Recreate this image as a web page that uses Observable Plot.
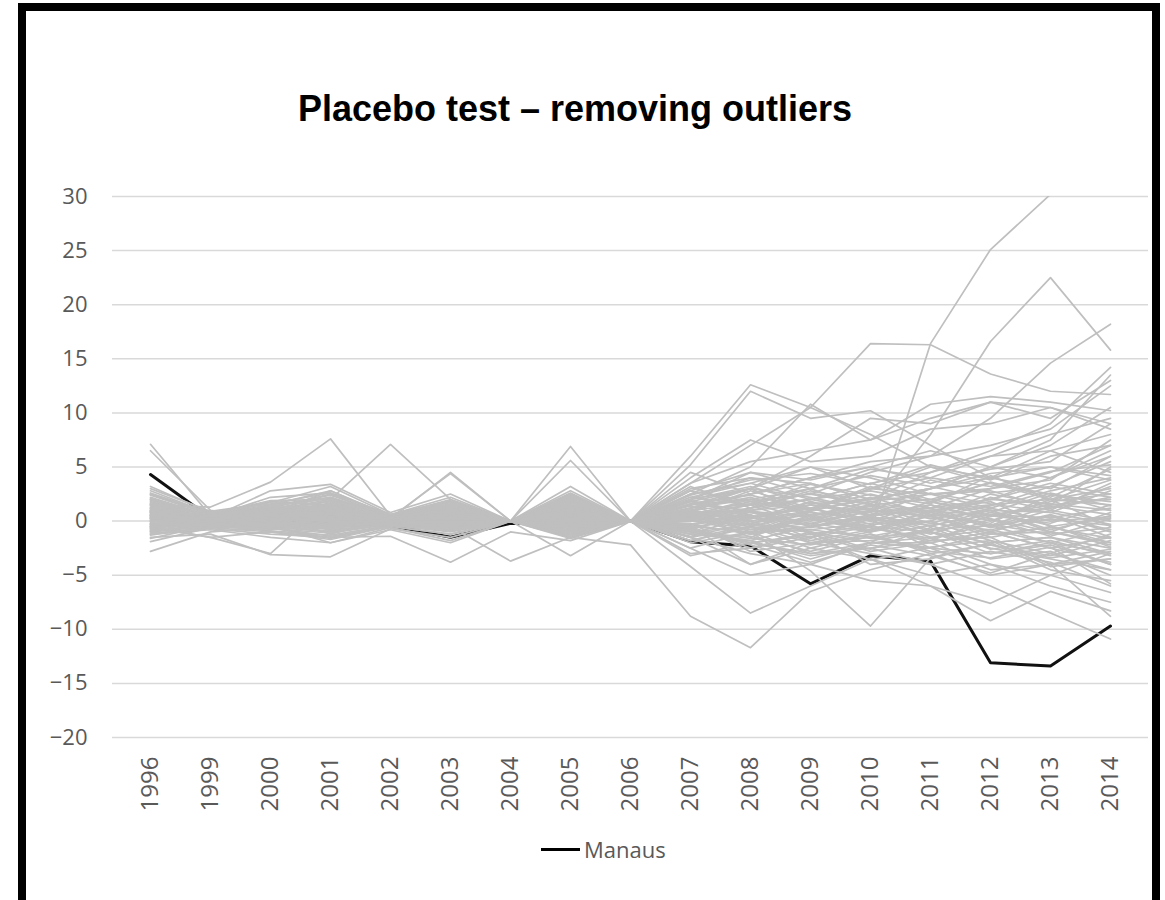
<!DOCTYPE html>
<html>
<head>
<meta charset="utf-8">
<script src="https://cdn.jsdelivr.net/npm/d3@7"></script>
<script src="https://cdn.jsdelivr.net/npm/@observablehq/plot@0.6"></script>
<style>
  body { margin: 0; background: #fff; }
  #wrap { position: relative; width: 1165px; height: 900px; overflow: hidden; background: #fff; }
  #chart { position: absolute; left: 0; top: 0; }
  #frame { position: absolute; left: 18px; top: 3px; width: 1142px; height: 905px; box-sizing: border-box; border: 8px solid #000; }
  #title { position: absolute; left: 0; top: 91px; width: 1150px; text-align: center; font: bold 36px "Liberation Sans", Arial, sans-serif; line-height: 1; color: #000; }
  #legend { position: absolute; left: 541px; top: 835px; height: 28px; display: flex; align-items: center; font: 22px "Open Sans", sans-serif; color: #595959; }
  #legend .sw { width: 39px; height: 3px; background: #000; margin-right: 4px; }
</style>
</head>
<body>
<div id="wrap">
  <div id="chart"></div>
  <div id="frame"></div>
  <div id="title">Placebo test – removing outliers</div>
  <div id="legend"><span class="sw"></span><span>Manaus</span></div>
</div>
<script>
// Categories (x axis)
const years = ["1996","1999","2000","2001","2002","2003","2004","2005","2006","2007","2008","2009","2010","2011","2012","2013","2014"];
// Y tick labels
const yTicks = [-20, -15, -10, -5, 0, 5, 10, 15, 20, 25, 30];

// Treated unit
const manaus = [4.3,0.3,0.2,-0.3,-0.4,-1.5,-0.2,-0.3,0,-1.9,-2.3,-5.8,-3.2,-3.7,-13.1,-13.4,-9.7];

// Placebo units (grey)
const placeboSeries = [
  [1.2,0.3,0.8,1.5,0.2,0.5,0,0.8,0,1.5,3.0,0.5,-1.0,16.4,25.1,30.2,38],
  [0.5,-0.2,0.6,1.0,0.1,-0.5,0,1.2,0,2.0,4.5,3.0,1.0,8.0,16.6,22.5,15.8],
  [-0.5,0.4,-0.3,0.8,0.3,0.9,0,-0.5,0,3.5,7.0,10.5,16.4,16.3,13.6,12.0,11.7],
  [0.8,0.1,1.1,0.5,-0.2,0.3,0,0.6,0,1.0,2.5,4.0,5.5,6.0,9.5,14.6,18.2],
  [2.0,0.5,1.5,2.2,0.4,1.2,0,2.5,0,6.0,12.6,10.5,8.0,5.0,3.5,2.0,1.5],
  [1.5,0.2,0.7,2.8,0.5,2.0,0,3.2,0,5.2,12.0,9.5,10.2,7.0,4.0,6.5,4.5],
  [-1.0,-0.5,0.2,-0.8,-0.3,0.4,0,-1.0,0,2.5,5.0,10.8,7.5,9.5,11.0,10.5,9.0],
  [-1.2,-0.8,-1.5,-2.0,-0.6,-1.8,0,-1.5,-2.2,-8.8,-11.7,-6.5,-4.5,-3.0,-5.0,-4.0,-3.5],
  [0.3,-0.4,0.5,-1.2,0.2,-0.8,0,-0.6,0,-4.2,-8.5,-6.0,-3.5,-5.0,-4.0,-6.0,-7.5],
  [-0.8,0.5,-0.6,-1.4,-0.5,0.6,0,-1.2,0,-2.0,-1.0,-4.6,-9.7,-3.4,-2.0,-1.5,-3.0],
  [0.6,-0.3,0.4,-0.5,0.3,-0.6,0,0.4,0,-1.0,-2.0,-3.0,-2.5,-4.0,-6.0,-8.5,-10.9],
  [-0.3,0.2,-0.8,0.5,-0.2,0.3,0,-0.4,0,-1.5,-3.0,-4.0,-5.5,-6.0,-9.2,-6.5,-8.3],
  [1.0,0.3,0.9,0.2,0.4,-0.2,0,0.9,0,-0.5,-4.0,-2.5,-3.5,-6.0,-7.6,-5.0,-6.6],
  [1.5,1.3,3.6,7.6,0.5,1.0,0,1.8,0,2.0,3.0,5.0,4.0,2.5,3.0,4.5,7.0],
  [-0.5,-1.5,-3.0,2.0,7.1,2.0,0,0.5,0,0.8,1.0,2.0,3.5,2.0,1.0,-1.0,-2.0],
  [7.1,0.5,0.8,1.2,0.3,0.5,0,0.6,0,0.5,1.5,-0.5,0.5,1.2,2.0,3.5,2.5],
  [6.5,1.0,0.2,0.5,-0.2,0.4,0,1.0,0,1.0,-1.0,0.5,1.5,0.8,-0.5,1.0,0.0],
  [-2.8,-1.0,-0.6,-1.6,-0.4,-0.8,0,-0.9,0,-0.5,-2.5,-1.5,-0.5,-1.0,-2.5,-3.5,-4.5],
  [0.4,0.2,0.5,1.0,0.2,4.5,0,6.9,0,1.5,2.0,1.0,3.0,5.0,4.0,3.0,6.0],
  [0.9,0.6,1.2,2.5,0.3,4.4,0,5.6,0,3.0,4.0,3.5,2.0,4.5,6.0,8.0,9.5],
  [-1.5,-1.2,-3.1,-3.3,-0.7,-1.5,0,-1.6,0,-1.0,-0.5,-2.0,-1.5,-2.5,-3.0,-2.0,-4.0],
  [-0.6,-1.5,-1.0,-1.5,-1.4,-3.8,-1.0,-1.8,0,-3.0,-2.5,-1.0,-4.0,-3.5,-2.0,-4.5,-5.5],
  [0.2,-0.2,-0.5,-1.0,-0.3,-0.5,-3.7,-1.5,0,-1.5,-4.0,-2.0,-1.0,0.5,-1.0,-2.5,-1.5],
  [-1.2,-0.6,-0.4,-2.0,-0.8,-2.0,0,-3.2,0,-1.2,-1.8,-3.5,-2.0,-2.0,-4.0,-5.0,-3.0],
  [0.3,0.1,-0.2,0.8,0.1,0.6,0,0.3,0,0.5,1.5,2.0,3.5,4.5,6.5,9.0,14.2],
  [0.7,0.3,0.6,1.5,0.2,1.0,0,1.0,0,0.8,0.0,1.0,2.0,3.0,5.0,7.5,13.5],
  [-0.2,0.0,0.3,-0.4,0.0,0.2,0,-0.2,0,2.0,4.0,2.5,4.5,6.0,7.0,8.5,12.5],
  [1.2,0.4,1.8,1.5,0.6,1.5,0,1.8,0,3.5,5.5,6.5,7.5,10.8,11.5,11.0,10.2],
  [0.9,0.3,2.8,3.4,0.8,2.5,0,2.8,0,4.0,7.5,5.5,6.0,8.5,9.0,10.5,8.5],
  [2.5,0.8,1.0,2.0,0.5,1.8,0,1.4,0,2.5,3.5,5.0,3.0,4.0,6.0,6.5,8.0],
  [0.8,0.2,0.9,1.5,0.3,0.7,0,1.4,0,1.2,3.0,6.0,9.5,9.0,11.0,9.5,13.0],
  [-0.7,-0.1,-0.5,-0.4,-0.3,-0.7,0,-0.8,0,-2.5,-5.0,-4.0,-2.0,-2.5,-4.5,-4.0,-8.8],
  [0.5,0.1,0.3,0.6,0.1,0.3,0,0.4,0,0.6,1.0,1.5,0.5,1.0,1.5,2.0,3.0],
  [-0.4,-0.1,-0.3,-0.5,-0.1,-0.3,0,-0.4,0,-0.5,-1.0,-0.8,-1.5,-1.0,-2.0,-1.5,-2.5],
  [1.8,0.4,0.9,1.9,0.3,1.1,0,1.6,0,1.2,2.2,0.5,1.8,2.5,1.2,2.8,4.0],
  [-1.6,-0.4,-0.9,-1.3,-0.4,-1.0,0,-1.1,0,-1.8,-0.5,-2.5,-1.2,-3.0,-2.2,-3.2,-1.8],
  [0.0,0.2,-0.1,0.3,0.1,0.1,0,0.2,0,0.3,-0.5,0.8,0.2,-0.4,0.6,0.3,1.2],
  [2.8,0.7,1.3,2.4,0.5,1.6,0,2.0,0,1.8,3.0,2.2,1.0,0.5,2.5,1.5,5.0],
  [1.0,0.0,0.5,1.2,0.0,0.8,0,1.1,0,-1.2,0.5,-1.0,-2.0,0.8,-0.5,0.5,-1.5],
  [-0.8,-0.2,-0.6,-0.9,-0.2,-0.6,0,-0.7,0,0.8,-1.5,0.5,1.2,-0.5,1.0,-0.8,0.5],
  [0.3,0.5,0.7,0.2,0.3,0.5,0,0.5,0,1.5,2.5,3.5,2.0,3.0,4.0,5.0,4.2],
  [-0.2,-0.6,-0.2,-0.8,-0.3,-0.2,0,-0.3,0,-0.8,-2.0,-1.2,-2.8,-2.0,-1.0,-2.5,-3.8],
  [1.3,0.2,0.4,0.9,0.2,0.5,0,0.8,0,0.0,1.2,2.0,2.8,1.8,0.5,1.5,2.0],
  [-1.0,-0.3,-0.4,-0.6,-0.1,-0.4,0,-0.5,0,0.4,0.0,-1.8,-0.8,0.5,-1.5,-0.5,-2.0],
  [2.2,0.5,1.5,2.8,0.4,1.8,0,2.4,0,2.2,1.5,3.0,4.2,3.2,2.0,4.0,6.5],
  [0.6,-0.1,0.1,0.4,-0.1,0.0,0,0.3,0,-0.3,0.8,-0.5,0.6,1.5,0.2,-1.0,0.8],
  [-0.5,0.3,0.2,-0.2,0.1,-0.1,0,-0.2,0,1.0,0.3,1.2,-0.3,0.0,2.2,1.0,3.5],
  [1.6,0.3,1.0,1.6,0.3,0.9,0,1.3,0,0.2,-1.2,-0.5,0.5,-1.5,-0.8,-2.0,-3.0],
  [-1.3,-0.5,-0.7,-1.1,-0.3,-0.7,0,-0.9,0,-2.5,-1.0,-3.0,-2.0,-1.5,-3.5,-2.8,-5.0],
  [0.8,0.2,0.6,1.0,0.2,0.7,0,1.0,0,1.8,0.5,0.0,1.5,2.0,3.5,2.5,1.0],
  [0.2,-0.2,0.0,0.1,0.0,-0.2,0,0.1,0,-0.6,0.2,1.5,0.8,-0.8,0.4,1.8,2.5],
  [2.5,0.6,0.5,1.4,0.3,1.3,0,1.7,0,0.8,2.8,1.2,2.5,1.2,3.0,3.8,7.5],
  [-0.6,0.4,0.8,0.7,0.3,0.5,0,0.6,0,2.8,1.8,0.8,-0.5,1.5,0.0,2.0,-0.5],
  [1.1,0.1,0.3,0.8,0.1,0.4,0,0.7,0,-1.5,-0.5,-1.5,0.2,-2.5,-1.2,-1.0,-2.2],
  [0.4,0.0,-0.2,0.5,-0.1,0.2,0,0.3,0,0.2,-0.8,-0.2,-1.0,0.0,-1.8,-3.0,-1.2],
  [-0.9,-0.3,-0.2,-0.3,-0.2,-0.3,0,-0.6,0,-1.0,-1.8,-0.5,0.3,-1.2,0.5,-0.2,1.5],
  [1.4,0.3,0.8,1.3,0.2,0.6,0,1.2,0,0.6,1.8,2.5,1.5,0.2,1.0,0.8,-0.3],
  [0.1,0.1,0.4,0.3,0.1,0.2,0,0.2,0,1.2,2.0,1.0,3.0,2.5,2.8,1.2,3.2],
  [3.0,0.9,1.7,3.2,0.6,2.2,0,2.2,0,2.8,4.5,3.8,5.0,3.5,4.8,5.5,9.0],
  [-0.3,-0.4,-0.7,-0.6,-0.2,-0.5,0,-0.5,0,-0.2,-2.8,-2.0,-3.0,-4.0,-2.8,-3.8,-6.0],
  [0.7,0.3,1.2,0.9,0.2,0.8,0,0.9,0,0.0,1.0,-1.2,-0.4,-2.0,-1.0,0.5,-0.8],
  [1.9,0.5,0.3,1.7,0.4,1.4,0,1.9,0,1.0,-0.3,1.8,0.0,1.0,1.8,-0.5,0.3],
  [-0.1,0.2,0.1,0.0,0.1,0.1,0,0.0,0,0.5,0.5,-2.0,-1.8,-1.0,-3.0,-2.2,-4.0],
  [1.0,-0.2,0.2,0.3,0.0,0.1,0,0.5,0,-0.8,-2.0,-3.2,-2.5,-1.8,-1.5,-4.0,-2.8],
  [0.0,0.3,0.6,0.9,0.2,0.5,0,0.5,0,2.2,3.5,2.0,1.0,3.0,5.0,4.0,6.0],
  [2.0,0.4,2.2,2.6,0.6,1.7,0,2.6,0,4.5,2.5,4.0,5.0,6.5,5.0,7.0,10.5],
  [0.5,0.0,-0.1,-0.2,0.0,-0.1,0,0.0,0,-0.3,-1.2,0.3,-0.6,-1.6,-0.3,-1.2,-0.6],
  [1.7,0.6,1.4,2.1,0.5,1.3,0,1.5,0,1.6,2.4,1.1,3.2,1.8,3.6,2.2,4.8],
  [-1.1,-0.7,-1.2,-1.5,-0.5,-1.2,0,-1.3,0,-0.7,-2.2,-3.8,-2.2,-3.2,-4.8,-3.0,-4.5],
  [0.9,0.1,0.0,0.6,0.1,0.4,0,0.6,0,1.4,-0.2,0.9,2.2,0.6,-0.2,2.4,1.8],
  [2.4,0.6,1.9,2.0,0.5,1.5,0,2.1,0,3.2,1.2,2.6,1.6,3.8,2.6,3.2,5.5],
  [-0.2,-0.3,-0.4,0.2,-0.1,-0.2,0,-0.1,0,-1.8,-0.6,-1.0,-2.6,-0.6,-2.6,-1.8,-3.2],
  [0.4,0.4,0.9,1.1,0.3,0.6,0,0.8,0,0.4,1.6,0.2,1.0,0.4,1.4,3.2,2.2],
  [1.5,0.2,0.2,0.5,0.1,0.3,0,0.5,0,-0.4,0.6,-1.6,0.4,-0.9,0.8,-0.4,-2.4],
  [-0.7,0.1,-0.2,-0.7,-0.1,-0.3,0,-0.3,0,0.6,-0.8,0.2,-0.9,1.0,-0.6,0.6,-1.0],
  [0.2,0.6,1.0,1.8,0.4,1.0,0,1.2,0,2.4,3.8,4.4,3.4,5.2,3.8,6.0,7.0],
  [3.2,0.8,1.6,2.6,0.6,1.9,0,2.3,0,1.0,1.6,3.4,2.4,1.6,4.2,2.0,3.8],
  [-0.4,-0.2,-0.1,-0.4,0.0,-0.2,0,-0.2,0,0.0,-0.3,-0.6,0.4,-0.2,-0.8,0.2,-0.4],
  [1.2,0.3,0.7,0.8,0.2,0.5,0,0.9,0,0.9,0.2,1.8,0.6,2.6,1.6,0.8,2.8],
  [-1.9,-0.6,-1.0,-1.7,-0.5,-1.2,0,-1.4,0,-3.2,-2.0,-1.4,-3.6,-2.4,-1.8,-4.2,-3.5],
  [0.6,0.2,0.5,0.6,0.1,0.3,0,0.5,0,-0.9,-1.6,-2.2,-1.2,-2.8,-3.4,-2.4,-5.8],
  [2.1,0.4,0.6,1.6,0.3,1.0,0,1.4,0,1.9,0.8,-0.2,0.9,1.2,-0.4,1.4,0.6],
  [0.0,-0.1,0.2,0.3,0.0,0.1,0,0.1,0,0.3,1.2,2.8,1.8,0.8,2.0,1.6,1.0],
  [-0.3,0.2,-0.3,-1.0,-0.2,-0.4,0,-0.6,0,-1.4,-0.2,0.6,-0.6,-1.8,0.2,-1.4,0.2],
  [1.0,0.4,1.3,1.2,0.4,0.9,0,1.1,0,0.5,2.0,3.0,4.8,4.0,3.2,4.6,5.2],
  [0.8,0.0,0.1,0.2,0.0,0.0,0,0.2,0,0.7,-0.4,-0.8,-0.2,0.4,-1.2,-0.6,-1.6],
  [-0.9,-0.5,-0.8,-0.2,-0.3,-0.9,0,-1.0,0,-0.6,0.4,-0.4,-1.6,-0.8,-0.4,-2.0,-0.8],
  [1.6,0.5,0.2,0.9,0.2,0.4,0,0.7,0,0.1,0.9,0.4,-0.8,0.9,0.6,1.2,2.2],
  [0.3,-0.1,0.4,-0.1,0.0,0.3,0,0.1,0,1.6,1.0,-0.4,1.4,-0.2,1.2,0.0,0.4],
  [2.6,0.7,1.1,2.2,0.5,1.4,0,1.8,0,2.0,3.2,1.6,2.0,3.0,4.4,5.0,3.8],
  [-0.5,-0.4,-0.2,-0.4,-0.2,-0.1,0,-0.3,0,-1.2,-1.4,-2.8,-1.4,-0.4,-2.2,-3.4,-2.6],
  [0.5,0.2,0.7,0.4,0.2,0.6,0,0.4,0,0.8,0.4,1.2,0.0,1.8,0.8,2.6,1.4]
];

const manausData = years.map((yr, i) => ({year: yr, value: manaus[i]}));
const greyData = placeboSeries.flatMap((vals, s) => vals.map((v, i) => ({series: s, year: years[i], value: v})));

const plot = Plot.plot({
  width: 1165,
  height: 900,
  marginLeft: 112,
  marginRight: 17,
  marginTop: 196,
  marginBottom: 163,
  style: {background: "transparent", fontFamily: "'Open Sans', sans-serif"},
  x: {type: "point", domain: years, padding: 0.5},
  y: {domain: [-20, 30]},
  marks: [
    Plot.ruleY(yTicks, {stroke: "#d9d9d9", strokeWidth: 1.5}),
    Plot.axisY({ticks: yTicks, tickSize: 0, tickPadding: 25, fontSize: 22, fill: "#595959", label: null}),
    Plot.axisX({tickRotate: -90, tickSize: 0, tickPadding: 19, fontSize: 24, fill: "#595959", label: null}),
    Plot.line(manausData, {x: "year", y: "value", stroke: "#111", strokeWidth: 3, clip: true}),
    Plot.line(greyData, {x: "year", y: "value", z: "series", stroke: "#bfbfbf", strokeWidth: 1.7, clip: true})
  ]
});
document.getElementById("chart").appendChild(plot);
</script>
</body>
</html>
